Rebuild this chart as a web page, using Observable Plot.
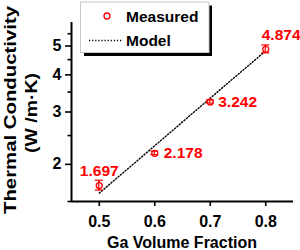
<!DOCTYPE html>
<html><head><meta charset="utf-8">
<script src="https://cdn.jsdelivr.net/npm/d3@7"></script>
<script src="https://cdn.jsdelivr.net/npm/@observablehq/plot@0.6"></script>
<style>
html,body{margin:0;padding:0;background:#fff;}
#chart{width:300px;height:250px;}
#chart svg text{font-weight:bold;}
</style>
</head><body><div id="chart"></div>
<script>
const fraction = [0.5, 0.6, 0.7, 0.8];
const measured = [1.697, 2.178, 3.242, 4.874];
const measuredErr = [0.065, 0.03, 0.04, 0.15];
const modelFraction = [0.5, 0.6, 0.7, 0.8];
const modelValues = [1.60, 2.31, 3.34, 4.82];
const labelText = ["1.697", "2.178", "3.242", "4.874"];
const xTicks = [0.5, 0.6, 0.7, 0.8];
const yTicks = [2, 3, 4, 5];
const yMinorTicks = [1.5, 2.5, 3.5, 4.5, 5.5];

const pts = fraction.map((f, i) => ({x: f, y: measured[i], lo: measured[i] - measuredErr[i], hi: measured[i] + measuredErr[i], label: labelText[i]}));
const model = modelFraction.map((f, i) => ({x: f, y: modelValues[i]}));
const RED = "#ff0000";
const FONT = "'Liberation Sans', Arial, sans-serif";
const DOTS = "1.2,1.9";

const labelOffsets = [
  {dx: 0, dy: -14.5, anchor: "middle"},
  {dx: 9, dy: 0, anchor: "start"},
  {dx: 8, dy: 0, anchor: "start"},
  {dx: -4, dy: -14, anchor: "start"}
];

const plot = Plot.plot({
  width: 300,
  height: 250,
  marginTop: 22,
  marginBottom: 49,
  marginLeft: 71,
  marginRight: 7,
  style: {fontFamily: FONT, fontWeight: "bold", fontSize: "15px", background: "#fff", color: "#000"},
  x: {type: "linear", domain: [0.45, 0.85], label: null},
  y: {type: "log", domain: [1.5, 6], label: null},
  marks: [
    Plot.axisY({ticks: yMinorTicks, tickSize: 3.5, text: null, strokeWidth: 1.6}),
    Plot.axisY({ticks: yTicks, tickSize: 6, tickPadding: 4, tickFormat: d3.format("d"), fontSize: 16, fontWeight: "bold", strokeWidth: 1.6}),
    Plot.axisX({ticks: xTicks, tickSize: 5, tickPadding: 9, tickFormat: d3.format(".1f"), fontSize: 16, fontWeight: "bold", strokeWidth: 1.6}),
    Plot.ruleX([0.45], {strokeWidth: 2}),
    Plot.ruleY([1.5], {strokeWidth: 2}),
    Plot.line(model, {x: "x", y: "y", stroke: "#000", strokeWidth: 1.4, strokeDasharray: DOTS}),
    Plot.ruleX(pts, {x: "x", y1: "lo", y2: "hi", stroke: RED, strokeWidth: 1.2}),
    Plot.dot(pts, {x: "x", y: "y", r: 3, stroke: RED, strokeWidth: 1.3, fill: "#fff"}),
    ...pts.map((p, i) => Plot.text([p], {x: "x", y: "y", text: "label", fill: RED, fontSize: 15.5, fontWeight: "bold",
      dx: labelOffsets[i].dx, dy: labelOffsets[i].dy, textAnchor: labelOffsets[i].anchor, lineAnchor: "middle"}))
  ]
});

document.getElementById("chart").appendChild(plot);

const svg = d3.select(plot);
const sx = plot.scale("x"), sy = plot.scale("y");
// error-bar caps and the vertical bar over the marker, positioned through the plot's scales
const capG = svg.append("g");
pts.forEach(p => {
  [p.lo, p.hi].forEach(v => {
    capG.append("line")
      .attr("x1", sx.apply(p.x) - 4).attr("x2", sx.apply(p.x) + 4)
      .attr("y1", sy.apply(v)).attr("y2", sy.apply(v))
      .attr("stroke", RED).attr("stroke-width", 1.2);
  });
  capG.append("line")
    .attr("x1", sx.apply(p.x)).attr("x2", sx.apply(p.x))
    .attr("y1", sy.apply(p.lo)).attr("y2", sy.apply(p.hi))
    .attr("stroke", RED).attr("stroke-width", 1.2);
});

// Y axis title (two lines)
const yTitle1 = "Thermal Conductivity";
const yTitle2 = "(W /m\u00b7K)";
svg.append("text").text(yTitle1)
  .attr("transform", "translate(15.5,110) rotate(-90)")
  .attr("text-anchor", "middle").attr("font-size", 17).attr("font-weight", "bold")
  .attr("font-family", FONT).attr("textLength", 208).attr("lengthAdjust", "spacingAndGlyphs");
svg.append("text").text(yTitle2)
  .attr("transform", "translate(36.5,113) rotate(-90)")
  .attr("text-anchor", "middle").attr("font-size", 17).attr("font-weight", "bold")
  .attr("font-family", FONT).attr("textLength", 80).attr("lengthAdjust", "spacingAndGlyphs");

// X axis title
svg.append("text").text("Ga Volume Fraction")
  .attr("x", 182).attr("y", 247.5)
  .attr("text-anchor", "middle").attr("font-size", 16).attr("font-weight", "bold").attr("font-family", FONT);

// Legend
const lg = svg.append("g");
lg.append("rect").attr("x", 84).attr("y", 5.5).attr("width", 128).attr("height", 50.5).attr("fill", "#000");
lg.append("rect").attr("x", 80.5).attr("y", 2).attr("width", 128.5).attr("height", 50.5).attr("fill", "#fff").attr("stroke", "#c8c8c8").attr("stroke-width", 1);
lg.append("circle").attr("cx", 107).attr("cy", 16).attr("r", 3).attr("fill", "none").attr("stroke", RED).attr("stroke-width", 1.3);
lg.append("text").text("Measured").attr("x", 126).attr("y", 16).attr("dominant-baseline", "central").attr("text-anchor", "start")
  .attr("font-size", 15.5).attr("font-weight", "bold").attr("font-family", FONT);
lg.append("line").attr("x1", 89).attr("x2", 122).attr("y1", 40.5).attr("y2", 40.5)
  .attr("stroke", "#000").attr("stroke-width", 1.4).attr("stroke-dasharray", DOTS);
lg.append("text").text("Model").attr("x", 126).attr("y", 40).attr("dominant-baseline", "central").attr("text-anchor", "start")
  .attr("font-size", 15.5).attr("font-weight", "bold").attr("font-family", FONT);
</script>
</body></html>
